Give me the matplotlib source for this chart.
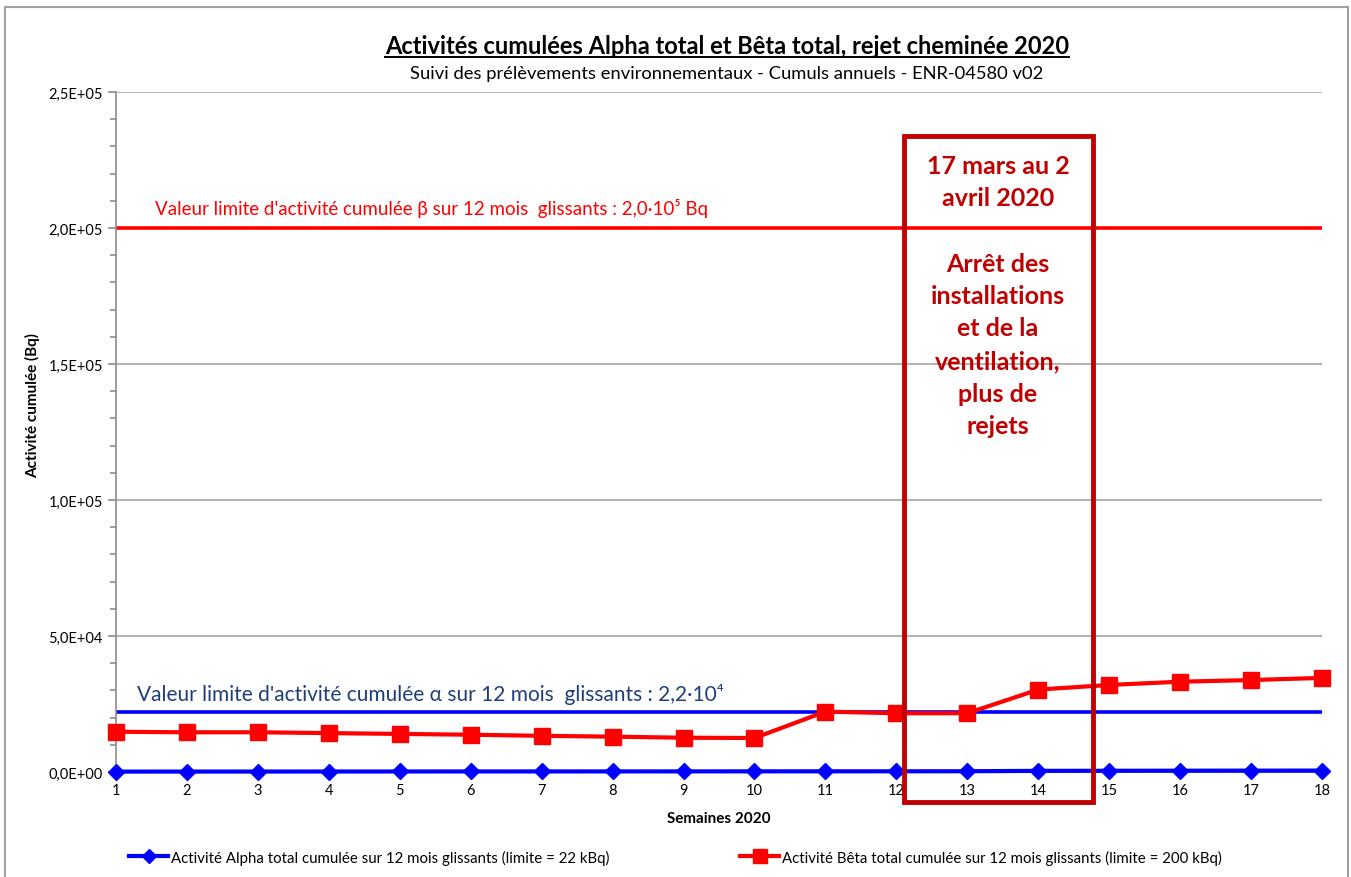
import matplotlib
matplotlib.use('Agg')
import matplotlib.pyplot as plt
from matplotlib.patches import Rectangle
from matplotlib.lines import Line2D
from matplotlib.ticker import MultipleLocator, FuncFormatter

plt.rcParams['font.family'] = ['Lato', 'DejaVu Sans']

# --- data ---
weeks = list(range(1, 19))
alpha_cumul = [150, 160, 170, 180, 190, 200, 210, 220, 230, 240,
               250, 260, 280, 420, 450, 480, 500, 520]
beta_cumul = [14800, 14600, 14600, 14300, 14000, 13700, 13300, 13000, 12600, 12500,
              22200, 21600, 21600, 30300, 32000, 33200, 33800, 34600]
alpha_limit = 22000
beta_limit = 200000

title = "Activités cumulées Alpha total et Bêta total, rejet cheminée 2020"
subtitle = "Suivi des prélèvements environnementaux - Cumuls annuels - ENR-04580 v02"
alpha_label = "Activité Alpha total cumulée sur 12 mois glissants (limite = 22 kBq)"
beta_label = "Activité Bêta total cumulée sur 12 mois glissants (limite = 200 kBq)"
alpha_limit_text = "Valeur limite d'activité cumulée α sur 12 mois  glissants : 2,2·10⁴"
beta_limit_text = "Valeur limite d'activité cumulée β sur 12 mois  glissants : 2,0·10⁵ Bq"
box_text = "17 mars au 2\navril 2020\n\nArrêt des\ninstallations\net de la\nventilation,\nplus de\nrejets"

W, H = 1351, 878
fig = plt.figure(figsize=(W / 100, H / 100), dpi=100)
ax = fig.add_axes([116 / W, 1 - 773 / H, (1322 - 116) / W, (773 - 93) / H])

gray = '#8c8c8c'
ax.grid(axis='y', which='major', color='#a6a6a6', lw=1.2)
ax.set_axisbelow(True)

ax.axhline(beta_limit, color='#ff0000', lw=2.6, zorder=2)
ax.axhline(alpha_limit, color='#0000ff', lw=2.6, zorder=2)

ax.plot(weeks, alpha_cumul, color='#0000ff', lw=3, marker='D', ms=8, zorder=4, clip_on=False)
ax.plot(weeks, beta_cumul, color='#ff0000', lw=3, marker='s', ms=11, zorder=4, clip_on=False)

ax.set_xlim(1, 18)
ax.set_ylim(0, 250000)
ax.set_xticks(weeks)
ax.yaxis.set_major_locator(MultipleLocator(50000))
ax.yaxis.set_minor_locator(MultipleLocator(10000))
ax.yaxis.set_major_formatter(FuncFormatter(lambda v, p: f"{v:.1E}".replace('.', ',')))
ax.tick_params(axis='x', length=0, pad=8, labelsize=10.5)
ax.tick_params(axis='y', which='both', direction='out', color=gray, width=1.2, labelsize=10.5)
ax.tick_params(axis='y', which='major', length=6)
ax.tick_params(axis='y', which='minor', length=4)
for s in ['top', 'right']:
    ax.spines[s].set_visible(False)
for s in ['left', 'bottom']:
    ax.spines[s].set_color(gray)
    ax.spines[s].set_linewidth(1.2)

ax.set_xlabel("Semaines 2020", fontsize=11, fontweight='bold', labelpad=10)
ax.set_ylabel("Activité cumulée (Bq)", fontsize=11, fontweight='bold', va='center')
ax.yaxis.set_label_coords(-0.0688, 0.541)

ax.text(1.55, beta_limit + 7500, beta_limit_text, color='#ff0000', fontsize=13.5, va='center')
ax.text(1.30, alpha_limit + 7000, alpha_limit_text, color='#1f3f7a', fontsize=15, va='center')

# title (underlined) and subtitle
t = fig.text(727 / W, 1 - 47 / H, title, ha='center', va='center', fontsize=17, fontweight='bold')
fig.text(727 / W, 1 - 74 / H, subtitle, ha='center', va='center', fontsize=13.2)
fig.canvas.draw()
bb = t.get_window_extent().transformed(fig.transFigure.inverted())
fig.add_artist(Line2D([bb.x0, bb.x1], [bb.y0 + 0.001, bb.y0 + 0.001], color='black', lw=1.4,
                      transform=fig.transFigure))

# shutdown box
fig.add_artist(Rectangle((904 / W, 1 - 803 / H), (1093 - 904) / W, (803 - 137) / H,
                         transform=fig.transFigure, fill=False, ec='#c00000', lw=3.5, zorder=10))
fig.text(998 / W, 1 - 155 / H, box_text, ha='center', va='top', color='#c00000',
         fontsize=18, fontweight='bold', linespacing=1.5)

# legend
handles = [Line2D([], [], color='#0000ff', lw=3, marker='D', ms=7),
           Line2D([], [], color='#ff0000', lw=3, marker='s', ms=10)]
fig.legend(handles, [alpha_label, beta_label], loc='center', bbox_to_anchor=(0.5, 1 - 858 / H),
           ncol=2, frameon=False, fontsize=10.8, columnspacing=8.7, handlelength=2.6,
           handletextpad=0.2)

# outer chart border
fig.add_artist(Rectangle((5 / W, -0.01), (1348 - 5) / W, 1 - 8 / H + 0.01, transform=fig.transFigure,
                         fill=False, ec='#a0a0a0', lw=1.5))

fig.savefig('out.png', dpi=100)
